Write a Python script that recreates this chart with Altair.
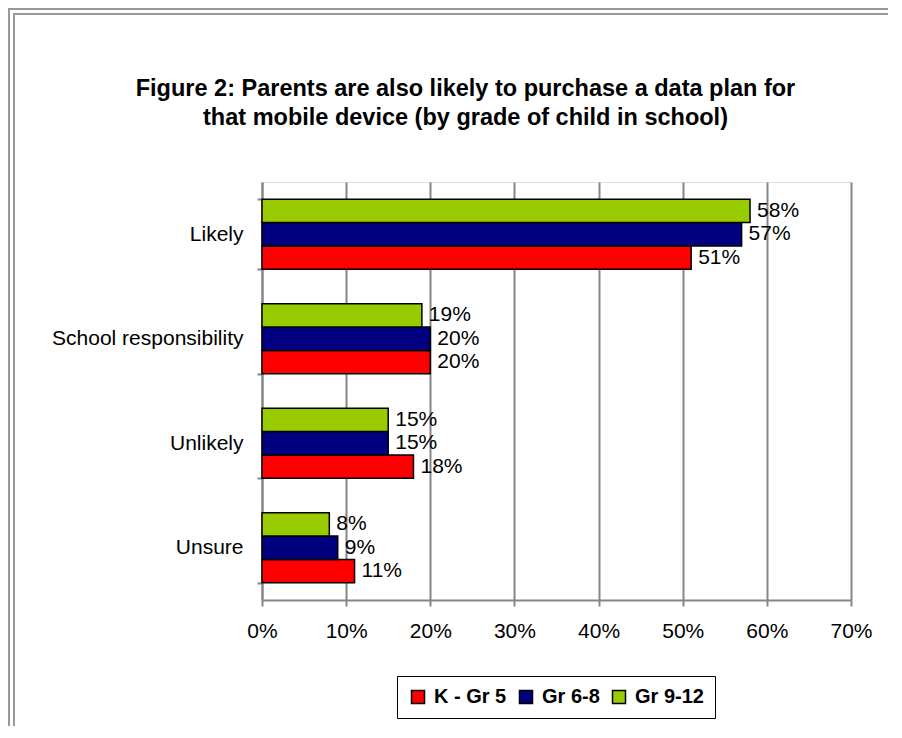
import altair as alt
import pandas as pd

categories = ["Likely", "School responsibility", "Unlikely", "Unsure"]
series = ["K - Gr 5", "Gr 6-8", "Gr 9-12"]
colors = ["#FF0000", "#000080", "#99CC00"]
k5 = [0.51, 0.20, 0.18, 0.11]
g68 = [0.57, 0.20, 0.15, 0.09]
g912 = [0.58, 0.19, 0.15, 0.08]
x_ticks = [0, 0.1, 0.2, 0.3, 0.4, 0.5, 0.6, 0.7]

rows = []
for s, vals in zip(series, [k5, g68, g912]):
    for c, v in zip(categories, vals):
        rows.append({"category": c, "series": s, "value": v})
df = pd.DataFrame(rows)

FONT = "Liberation Sans"
GRAY = "#868686"
FS = 21

y_enc = alt.Y("category:N", sort=categories, title=None,
              scale=alt.Scale(paddingInner=0.33, paddingOuter=0.165),
              axis=alt.Axis(labelFontSize=FS, labelFont=FONT, labelColor="black",
                            labelPadding=14, labelLimit=0, tickBand="extent", tickSize=5,
                            tickColor=GRAY, tickWidth=2, domainColor=GRAY,
                            domainWidth=2, grid=False))
yoff = alt.YOffset("series:N", sort=["Gr 9-12", "Gr 6-8", "K - Gr 5"],
                   scale=alt.Scale(paddingInner=0, paddingOuter=0))
x_enc = alt.X("value:Q", title=None,
              scale=alt.Scale(domain=[0, 0.7], nice=False),
              axis=alt.Axis(values=x_ticks, format=".0%", labelFontSize=FS,
                            labelFont=FONT, labelColor="black", labelPadding=14,
                            labelFlush=False,
                            tickSize=6, tickColor=GRAY, tickWidth=2,
                            domainColor=GRAY, domainWidth=2,
                            grid=True, gridColor=GRAY, gridWidth=2))

base = alt.Chart(df)

bars = base.mark_bar(stroke="black", strokeWidth=1.5).encode(
    y=y_enc, yOffset=yoff, x=x_enc,
    color=alt.Color("series:N", sort=series,
                    scale=alt.Scale(domain=series, range=colors),
                    legend=alt.Legend(orient="none", legendX=135, legendY=494,
                                      direction="horizontal", title=None,
                                      labelFontSize=20, labelFont=FONT,
                                      labelFontWeight="bold", labelColor="black",
                                      symbolType="square", symbolSize=169,
                                      symbolStrokeColor="black",
                                      symbolStrokeWidth=1.5,
                                      strokeColor="black", padding=11,
                                      columnPadding=9, labelOffset=6)),
)

labels = base.mark_text(align="left", baseline="middle", dx=7, fontSize=FS,
                        font=FONT, color="black").encode(
    y=alt.Y("category:N", sort=categories),
    yOffset=yoff,
    x=alt.X("value:Q"),
    text=alt.Text("value:Q", format=".0%"),
)

frame_data = alt.Data(values=[{"a": 1}])
frame1 = alt.Chart(frame_data).mark_rect(fill=None, stroke="#999999", strokeWidth=2).encode(
    x=alt.value(-253), x2=alt.value(700), y=alt.value(-173), y2=alt.value(700))
frame2 = alt.Chart(frame_data).mark_rect(fill=None, stroke="#999999", strokeWidth=2).encode(
    x=alt.value(-248), x2=alt.value(700), y=alt.value(-168), y2=alt.value(700))

chart = alt.layer(frame1, frame2, bars, labels).properties(
    width=589, height=418,
    autosize=alt.AutoSizeParams(type="none"),
    padding={"left": 254, "top": 174, "right": 37, "bottom": 126},
    title=alt.TitleParams(
        text=["Figure 2: Parents are also likely to purchase a data plan for",
              "that mobile device (by grade of child in school)"],
        fontSize=23.5, font=FONT, fontWeight="bold", color="black",
        anchor="middle", frame="group", dx=-91, offset=-121, lineHeight=29),
).configure_view(stroke=GRAY, strokeWidth=2).configure(background="white")

chart.save("out.html", embed_options={"renderer": "svg", "actions": False})
